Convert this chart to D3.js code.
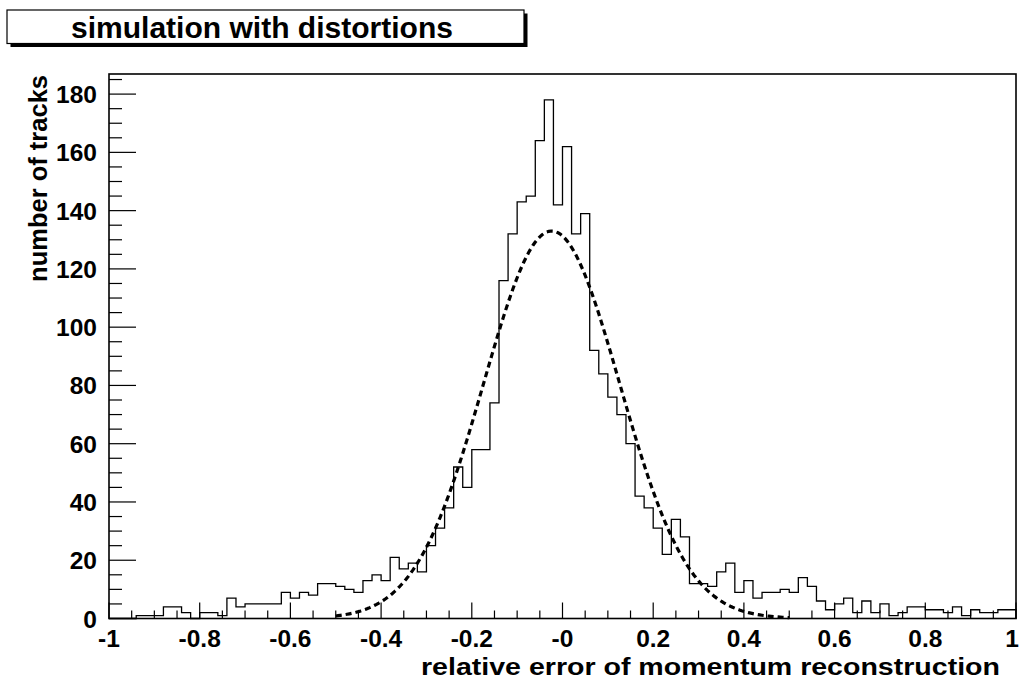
<!DOCTYPE html>
<html>
<head>
<meta charset="utf-8">
<script src="https://cdn.jsdelivr.net/npm/d3@7"></script>
<style>
  body { margin: 0; background: #fff; }
  svg { display: block; }
  text { font-family: "Liberation Sans", Arial, Helvetica, sans-serif; font-weight: bold; fill: #000; }
</style>
</head>
<body>
<svg id="chart" width="1020" height="682"></svg>
<script>
// Histogram: 100 bins of width 0.02 between -1 and 1
const binEdges = [-1, 1];
const counts = [
  0, 0, 0, 1, 1, 1, 4, 4, 2, 0,
  2, 2, 1, 7, 4, 5, 5, 5, 5, 9,
  7, 9, 8, 12, 12, 11, 10, 9, 13, 15,
  13, 21, 17, 19, 16, 25, 31, 38, 52, 45,
  58, 58, 74, 116, 132, 143, 145, 164, 178, 142,
  162, 132, 139, 92, 84, 76, 70, 60, 42, 38,
  31, 22, 34, 28, 12, 12, 11, 16, 19, 9,
  13, 7, 9, 9, 10, 9, 14, 11, 6, 3,
  5, 7, 2, 6, 2, 5, 1, 2, 4, 4,
  3, 3, 2, 4, 1, 3, 2, 2, 3, 3
];

// Gaussian fit: [constant, mean, sigma] and the range it was fitted over
const gausParams = [133, -0.024, 0.15];
const gausRange = [-0.5, 0.5];

const xTickValues = [-1, -0.8, -0.6, -0.4, -0.2, 0, 0.2, 0.4, 0.6, 0.8, 1];
const xTickLabels = ["-1", "-0.8", "-0.6", "-0.4", "-0.2", "-0", "0.2", "0.4", "0.6", "0.8", "1"];
const yTickValues = [0, 20, 40, 60, 80, 100, 120, 140, 160, 180];
const yTickLabels = ["0", "20", "40", "60", "80", "100", "120", "140", "160", "180"];

const titleText = "simulation with distortions";
const xTitle = "relative error of momentum reconstruction";
const yTitle = "number of tracks";

// ---- layout ----
const frame = { left: 109, right: 1016, top: 74, bottom: 618.5 };
const yMax = d3.max(counts) * 1.05;

const svg = d3.select("#chart");
const x = d3.scaleLinear().domain(binEdges).range([frame.left, frame.right]);
const y = d3.scaleLinear().domain([0, yMax]).range([frame.bottom, frame.top]);

// title box with drop shadow
const box = { x: 7, y: 10, w: 517, h: 33.5, shadow: 3.5 };
svg.append("rect")
  .attr("x", box.x + box.shadow).attr("y", box.y + box.shadow)
  .attr("width", box.w).attr("height", box.h).attr("fill", "#000");
svg.append("rect")
  .attr("x", box.x).attr("y", box.y).attr("width", box.w).attr("height", box.h)
  .attr("fill", "#fff").attr("stroke", "#000").attr("stroke-width", 1.2);
svg.append("text")
  .attr("x", 71).attr("y", 37.5)
  .attr("font-size", 29)
  .attr("textLength", 382).attr("lengthAdjust", "spacingAndGlyphs")
  .text(titleText);

// histogram outline
const nb = counts.length;
const bw = (binEdges[1] - binEdges[0]) / nb;
const pts = [[x(binEdges[0]), y(0)]];
counts.forEach((c, i) => {
  const lo = binEdges[0] + i * bw, hi = lo + bw;
  pts.push([x(lo), y(c)], [x(hi), y(c)]);
});
pts.push([x(binEdges[1]), y(0)]);
svg.append("path")
  .attr("d", d3.line()(pts))
  .attr("fill", "none").attr("stroke", "#000").attr("stroke-width", 1.3);

// fitted gaussian, dashed
const [gA, gMu, gSig] = gausParams;
const gaus = v => gA * Math.exp(-0.5 * ((v - gMu) / gSig) ** 2);
const gx = d3.range(0, 201).map(k => gausRange[0] + (gausRange[1] - gausRange[0]) * k / 200);
svg.append("path")
  .attr("d", d3.line().x(v => x(v)).y(v => y(gaus(v)))(gx))
  .attr("fill", "none").attr("stroke", "#000").attr("stroke-width", 3.2)
  .attr("stroke-dasharray", "6,4");

// frame
svg.append("rect")
  .attr("x", frame.left).attr("y", frame.top)
  .attr("width", frame.right - frame.left).attr("height", frame.bottom - frame.top)
  .attr("fill", "none").attr("stroke", "#000").attr("stroke-width", 1.6);

// x axis ticks (major 0.2, minor 0.05)
const xMinor = d3.range(0, 41).map(k => -1 + k * 0.05);
const gx0 = svg.append("g");
xMinor.forEach(v => {
  const major = Math.abs(Math.round(v * 5) - v * 5) < 1e-6;
  gx0.append("line")
    .attr("x1", x(v)).attr("x2", x(v))
    .attr("y1", frame.bottom).attr("y2", frame.bottom - (major ? 16 : 8))
    .attr("stroke", "#000").attr("stroke-width", 1.2);
});
const xAxisLabels = svg.append("g");
xTickValues.forEach((v, i) => {
  const last = i === xTickValues.length - 1;
  xAxisLabels.append("text")
    .attr("x", last ? x(v) - 4 : x(v)).attr("y", 647)
    .attr("text-anchor", "middle").attr("font-size", 24.5)
    .text(xTickLabels[i]);
});

// y axis ticks (major 20, minor 5)
const yMinor = d3.range(0, 38).map(k => k * 5).filter(v => v <= yMax);
const gy0 = svg.append("g");
yMinor.forEach(v => {
  const major = v % 20 === 0;
  gy0.append("line")
    .attr("x1", frame.left).attr("x2", frame.left + (major ? 27 : 13))
    .attr("y1", y(v)).attr("y2", y(v))
    .attr("stroke", "#000").attr("stroke-width", 1.2);
});
const yAxisLabels = svg.append("g");
yTickValues.forEach((v, i) => {
  yAxisLabels.append("text")
    .attr("x", 97).attr("y", y(v) + 9)
    .attr("text-anchor", "end").attr("font-size", 24.5)
    .text(yTickLabels[i]);
});

// axis titles
svg.append("text")
  .attr("x", 421).attr("y", 675)
  .attr("font-size", 23.5)
  .attr("textLength", 579).attr("lengthAdjust", "spacingAndGlyphs")
  .text(xTitle);
svg.append("text")
  .attr("transform", "translate(47,75) rotate(-90)")
  .attr("text-anchor", "end").attr("font-size", 25.5)
  .text(yTitle);
</script>
</body>
</html>
